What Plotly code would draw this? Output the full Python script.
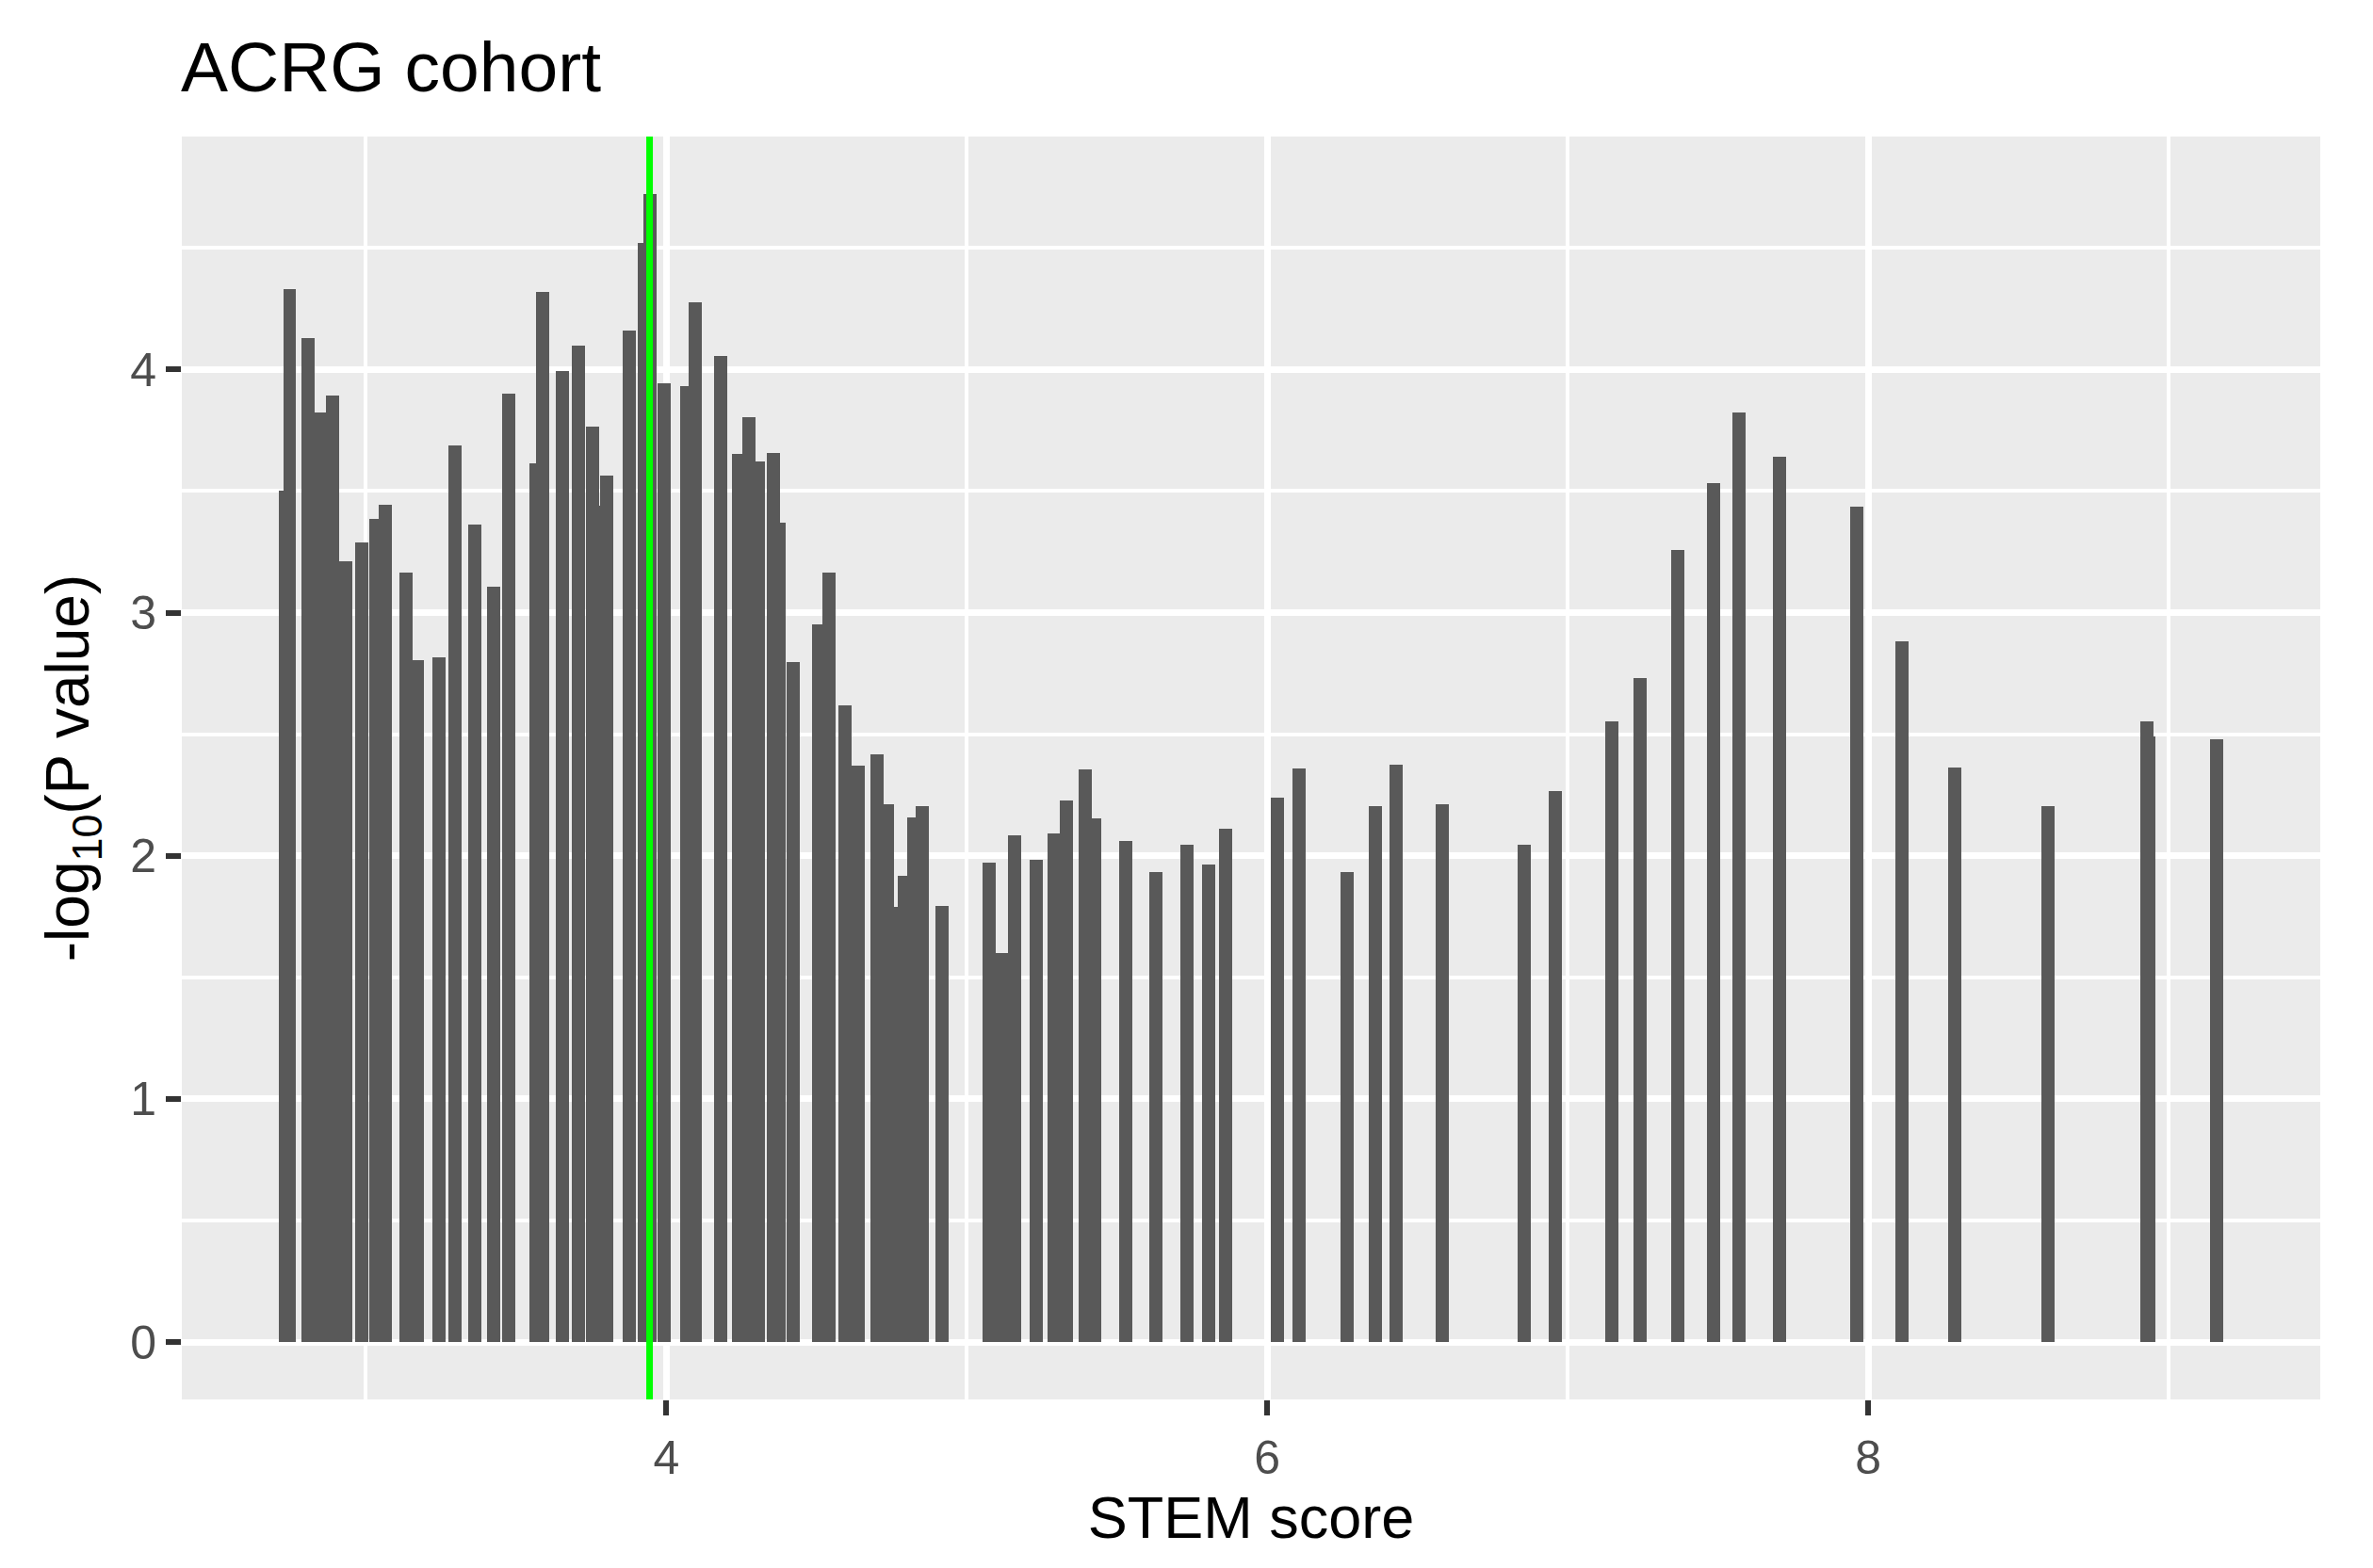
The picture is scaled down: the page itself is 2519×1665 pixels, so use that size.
import plotly.graph_objects as go

# STEM score (bar centre) and -log10(P value)
stem_score = [
    2.732, 2.746, 2.808, 2.851, 2.889, 2.933, 2.986, 3.033, 3.064, 3.133,
    3.171, 3.243, 3.296, 3.362, 3.424, 3.474, 3.565, 3.587, 3.653, 3.706,
    3.753, 3.756, 3.800, 3.875, 3.925, 3.944, 3.991, 4.069, 4.097, 4.182,
    4.241, 4.275, 4.307, 4.357, 4.376, 4.423, 4.507, 4.541, 4.595, 4.639,
    4.701, 4.736, 4.748, 4.792, 4.823, 4.851, 4.917, 5.074, 5.114, 5.158,
    5.231, 5.290, 5.330, 5.393, 5.424, 5.528, 5.628, 5.734, 5.806, 5.862,
    6.035, 6.107, 6.266, 6.361, 6.429, 6.582, 6.855, 6.958, 7.146, 7.240,
    7.365, 7.485, 7.571, 7.704, 7.962, 8.113, 8.288, 8.598, 8.927, 8.933,
    9.161,
]
neg_log10_p = [
    3.503, 4.329, 4.131, 3.822, 3.893, 3.213, 3.290, 3.386, 3.445, 3.163,
    2.805, 2.817, 3.686, 3.361, 3.105, 3.902, 3.615, 4.320, 3.992, 4.100,
    3.766, 3.438, 3.562, 4.159, 4.521, 4.722, 3.942, 3.933, 4.276, 4.057,
    3.652, 3.803, 3.621, 3.655, 3.370, 2.795, 2.953, 3.166, 2.619, 2.369,
    2.418, 2.211, 1.790, 1.917, 2.158, 2.205, 1.793, 1.973, 1.599, 2.084,
    1.982, 2.090, 2.226, 2.356, 2.155, 2.059, 1.933, 2.044, 1.963, 2.112,
    2.239, 2.359, 1.933, 2.205, 2.375, 2.211, 2.044, 2.267, 2.551, 2.730,
    3.256, 3.534, 3.825, 3.640, 3.435, 2.882, 2.362, 2.205, 2.554, 2.492,
    2.480,
]
cutoff = 3.944

x_ticks = [4, 6, 8]
y_ticks = [0, 1, 2, 3, 4]

FONT = "Liberation Sans, Arial, sans-serif"

# the page body adds an 8px margin, so the figure is 8px smaller than the window
W, H = 2511, 1657

fig = go.Figure()
fig.add_trace(go.Bar(
    x=stem_score, y=neg_log10_p, width=0.0438,
    marker=dict(color="#595959", line=dict(width=0)),
    showlegend=False,
))
fig.add_vline(x=cutoff, line_color="#00FF00", line_width=7)

fig.update_layout(
    width=W, height=H,
    margin=dict(l=185, r=56, t=137, b=179),
    paper_bgcolor="white", plot_bgcolor="#EBEBEB",
    barmode="overlay", bargap=0,
    font=dict(family=FONT, color="#4D4D4D"),
    title=dict(text="ACRG cohort", font=dict(size=75, color="black", family=FONT),
               xref="container", yref="container", x=184 / W, xanchor="left",
               y=1 - 63 / H, yanchor="middle"),
)
fig.update_xaxes(
    range=[2.387, 9.505], tickvals=x_ticks, ticks="outside", ticklen=16, tickwidth=6,
    tickcolor="#333333", tickfont=dict(size=50, color="#4D4D4D"), ticklabelstandoff=2,
    showgrid=True, gridcolor="white", gridwidth=6.5, zeroline=False, showline=False,
    minor=dict(showgrid=True, gridcolor="white", gridwidth=3.5, tick0=0, dtick=1),
    title=dict(text="STEM score", font=dict(size=63, color="black"), standoff=6),
)
fig.update_yaxes(
    range=[-0.236, 4.958], tickvals=y_ticks, ticks="outside", ticklen=16, tickwidth=6,
    tickcolor="#333333", tickfont=dict(size=50, color="#4D4D4D"),
    showgrid=True, gridcolor="white", gridwidth=6.5, zeroline=False, showline=False,
    minor=dict(showgrid=True, gridcolor="white", gridwidth=3.5, tick0=0.5, dtick=1),
    title=dict(text="-log<sub>10</sub>(P value)", font=dict(size=64, color="black"), standoff=22),
)

fig.write_html("out.html")
